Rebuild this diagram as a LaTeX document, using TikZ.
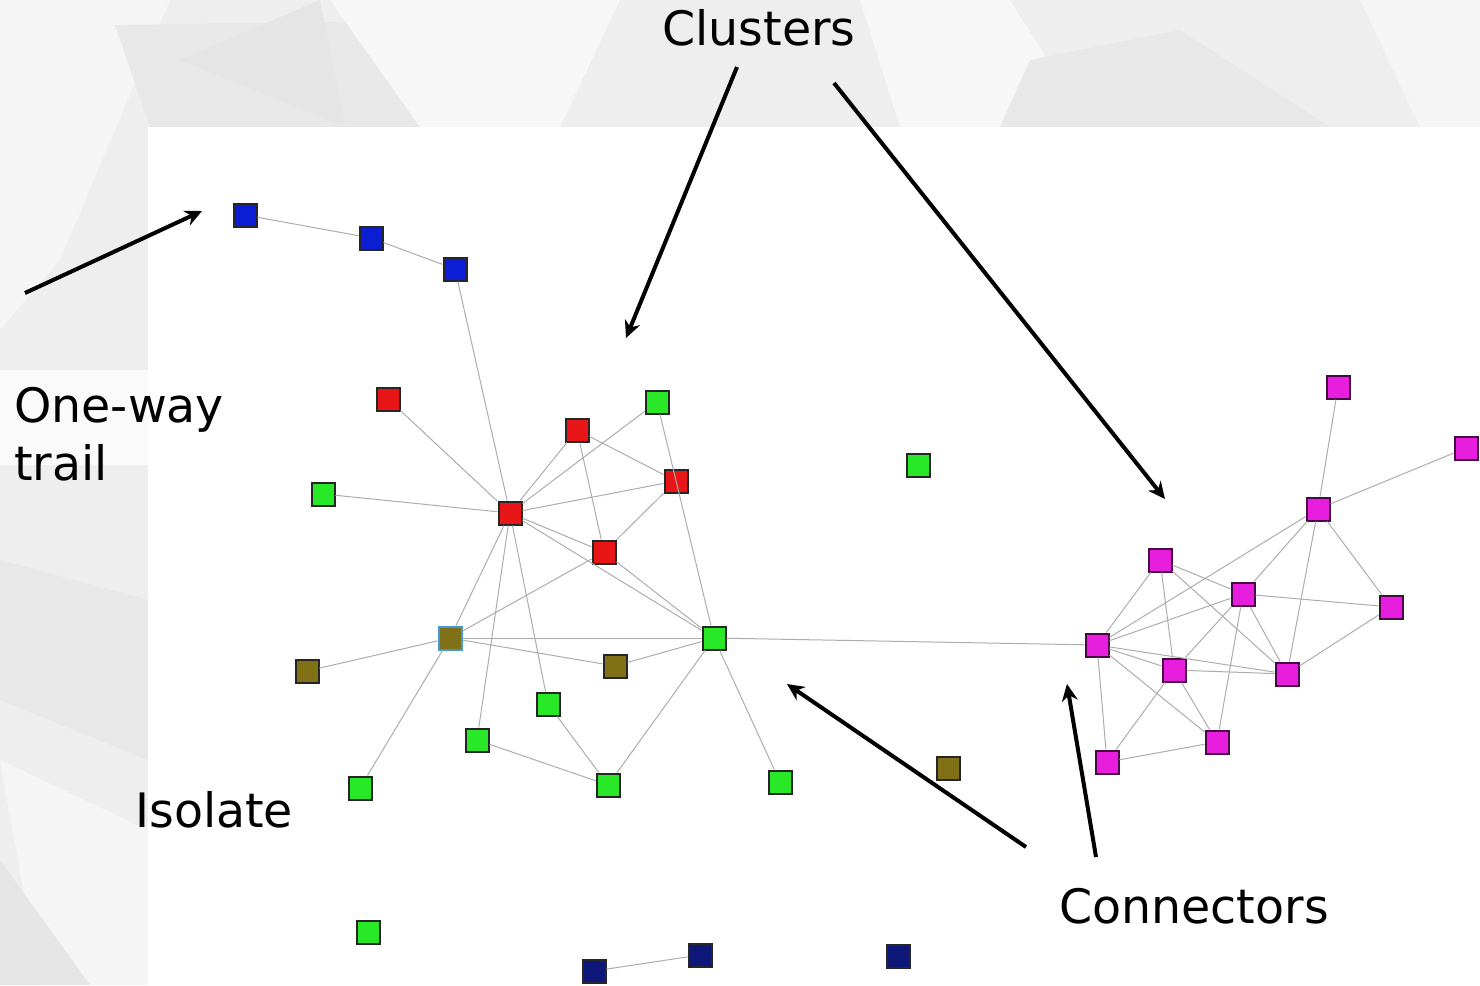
\documentclass[tikz,border=0pt]{standalone}
\usepackage{fontspec}
\setmainfont{DejaVu Sans}
\usetikzlibrary{positioning, arrows.meta}

\definecolor{bggray}{RGB}{238,238,238}
\definecolor{nodered}{RGB}{232,22,22}
\definecolor{nodegreen}{RGB}{40,232,40}
\definecolor{nodeblue}{RGB}{12,30,212}
\definecolor{nodenavy}{RGB}{14,24,122}
\definecolor{nodeolive}{RGB}{128,112,22}
\definecolor{nodemagenta}{RGB}{232,30,222}
\definecolor{hubrim}{RGB}{70,150,220}

\begin{document}
\begin{tikzpicture}[x=0.2mm, y=-0.2mm,
				sq/.style={rectangle, draw=black!85, line width=0.4mm, minimum size=4.6mm, inner sep=0pt},
				rednode/.style={sq, fill=nodered},
				greennode/.style={sq, fill=nodegreen},
				bluenode/.style={sq, fill=nodeblue},
				navynode/.style={sq, fill=nodenavy},
				olivenode/.style={sq, fill=nodeolive},
				magnode/.style={sq, fill=nodemagenta, draw=black!70!nodemagenta},
				link/.style={draw=black!32, line width=0.2mm},
				tag/.style={font=\fontsize{27}{33}\selectfont, inner sep=0pt},
			]
			% background
			\fill[bggray] (0,0) rectangle (1480,985);
			\fill[black!4] (0,0) -- (170,0) -- (60,260) -- (0,330) -- cycle;
			\fill[black!9] (115,25) -- (480,20) -- (430,127) -- (150,127) -- cycle;
			\fill[black!3] (330,0) -- (620,0) -- (560,127) -- (420,127) -- cycle;
			\fill[black!10] (180,60) -- (320,0) -- (345,127) -- cycle;
			\fill[black!3] (860,0) -- (1010,0) -- (1090,127) -- (900,127) -- cycle;
			\fill[black!9] (1030,60) -- (1180,30) -- (1330,127) -- (1000,127) -- cycle;
			\fill[black!4] (1360,0) -- (1480,0) -- (1480,127) -- (1420,127) -- cycle;
			\fill[black!9] (0,560) -- (148,600) -- (148,760) -- (0,700) -- cycle;
			\fill[black!4] (0,760) -- (148,830) -- (148,985) -- (40,985) -- cycle;
			\fill[black!10] (0,860) -- (90,985) -- (0,985) -- cycle;
			\fill[black!2] (0,370) rectangle (148,465);
			\fill[white] (148,127) rectangle (1480,985);

			% trail
			\node[bluenode] (trail1) at (245,215) {};
			\node[bluenode] (trail2) at (371,238) {};
			\node[bluenode] (trail3) at (455,269) {};
			% left cluster
			\node[rednode] (redhub) at (510,513) {};
			\node[rednode] (red1) at (388,399) {};
			\node[rednode] (red2) at (577,430) {};
			\node[rednode] (red3) at (676,481) {};
			\node[rednode] (red4) at (604,552) {};
			\node[greennode] (green1) at (657,402) {};
			\node[greennode] (green2) at (323,494) {};
			\node[greennode] (greenhub) at (714,638) {};
			\node[greennode] (green3) at (548,704) {};
			\node[greennode] (green4) at (477,740) {};
			\node[greennode] (green5) at (360,788) {};
			\node[greennode] (green6) at (608,785) {};
			\node[greennode] (green7) at (780,782) {};
			\node[olivenode, draw=hubrim] (olivehub) at (450,638) {};
			\node[olivenode] (olive1) at (307,671) {};
			\node[olivenode] (olive2) at (615,666) {};
			% isolates
			\node[greennode] (lone1) at (918,465) {};
			\node[olivenode] (lone2) at (948,768) {};
			\node[greennode] (lone3) at (368,932) {};
			\node[navynode] (lone4) at (898,956) {};
			\node[navynode] (pair1) at (594,971) {};
			\node[navynode] (pair2) at (700,955) {};
			% right cluster
			\node[magnode] (mag1) at (1338,387) {};
			\node[magnode] (mag2) at (1466,448) {};
			\node[magnode] (mag3) at (1318,509) {};
			\node[magnode] (mag4) at (1160,560) {};
			\node[magnode] (mag5) at (1243,594) {};
			\node[magnode] (mag6) at (1391,607) {};
			\node[magnode] (mag7) at (1097,645) {};
			\node[magnode] (mag8) at (1174,670) {};
			\node[magnode] (mag9) at (1287,674) {};
			\node[magnode] (mag10) at (1217,742) {};
			\node[magnode] (mag11) at (1107,762) {};

			\begin{scope}[link]
			\draw (trail1) -- (trail2);
			\draw (trail2) -- (trail3);
			\draw (trail3) -- (redhub);
			\draw (pair1) -- (pair2);
			\draw (red1) -- (redhub);
			\draw (green2) -- (redhub);
			\draw (red2) -- (redhub);
			\draw (green1) -- (redhub);
			\draw (red3) -- (redhub);
			\draw (red4) -- (redhub);
			\draw (red2) -- (red3);
			\draw (red2) -- (red4);
			\draw (red3) -- (red4);
			\draw (green1) -- (greenhub);
			\draw (redhub) -- (greenhub);
			\draw (red4) -- (greenhub);
			\draw (redhub) -- (olivehub);
			\draw (red4) -- (olivehub);
			\draw (redhub) -- (green4);
			\draw (redhub) -- (green3);
			\draw (olivehub) -- (greenhub);
			\draw (olivehub) -- (olive1);
			\draw (olivehub) -- (olive2);
			\draw (olivehub) -- (green5);
			\draw (olive2) -- (greenhub);
			\draw (greenhub) -- (green6);
			\draw (greenhub) -- (green7);
			\draw (green3) -- (green6);
			\draw (green4) -- (green6);
			\draw (greenhub) -- (mag7);
			\draw (mag1) -- (mag3);
			\draw (mag2) -- (mag3);
			\draw (mag3) -- (mag7);
			\draw (mag3) -- (mag5);
			\draw (mag3) -- (mag9);
			\draw (mag3) -- (mag6);
			\draw (mag4) -- (mag7);
			\draw (mag4) -- (mag8);
			\draw (mag4) -- (mag5);
			\draw (mag4) -- (mag9);
			\draw (mag5) -- (mag7);
			\draw (mag5) -- (mag6);
			\draw (mag5) -- (mag8);
			\draw (mag5) -- (mag9);
			\draw (mag5) -- (mag10);
			\draw (mag6) -- (mag9);
			\draw (mag7) -- (mag8);
			\draw (mag7) -- (mag9);
			\draw (mag7) -- (mag10);
			\draw (mag7) -- (mag11);
			\draw (mag8) -- (mag9);
			\draw (mag8) -- (mag10);
			\draw (mag8) -- (mag11);
			\draw (mag10) -- (mag11);
			\end{scope}

			% labels
			\node[tag, anchor=base] (clusters) at (759,45) {Clusters};
			\node[tag, anchor=base west] (oneway) at (14,422) {One-way};
			\node[tag, anchor=base west] (trail) at (14,480) {trail};
			\node[tag, anchor=base west] (isolate) at (135,827) {Isolate};
			\node[tag, anchor=base west] (connectors) at (1059,923) {Connectors};

			\coordinate (trailtail) at (25,293);
			\coordinate (trailtip) at (202,211);
			\coordinate (cltaila) at (737,67);
			\coordinate (cltipa) at (626,338);
			\coordinate (cltailb) at (834,83);
			\coordinate (cltipb) at (1165,499);
			\coordinate (cotaila) at (1026,847);
			\coordinate (cotipa) at (787,684);
			\coordinate (cotailb) at (1096,857);
			\coordinate (cotipb) at (1067,684);

			\begin{scope}[line width=0.8mm, -{Stealth[length=3.4mm, width=3.2mm]}]
			\draw (trailtail) -- (trailtip);
			\draw (cltaila) -- (cltipa);
			\draw (cltailb) -- (cltipb);
			\draw (cotaila) -- (cotipa);
			\draw (cotailb) -- (cotipb);
			\end{scope}
			\end{tikzpicture}
\end{document}
